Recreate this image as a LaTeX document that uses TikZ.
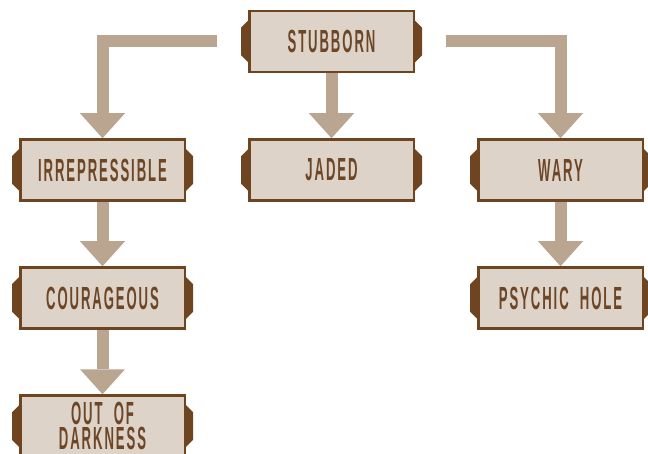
\documentclass[tikz,border=0pt]{standalone}
\usepackage{fontspec}
\setmainfont{Liberation Sans}[FakeStretch=0.41,LetterSpace=6,WordSpace=2]
\usetikzlibrary{arrows.meta,calc}

\definecolor{boxfill}{HTML}{DDD3C8}
\definecolor{boxline}{HTML}{6E4520}
\definecolor{boxtext}{HTML}{6D4626}
\definecolor{arrowc}{HTML}{BAA690}

% side tabs drawn on both short edges of a stage box
\newcommand{\stagetabs}[1]{%
  \fill[boxline] ($(#1.north west)+(1,10)$) -- ++(-8,8) -- ($(#1.south west)+(-7,-18)$) -- ++(8,8) -- cycle;
  \fill[boxline] ($(#1.north east)+(-1,10)$) -- ++(8,8) -- ($(#1.south east)+(7,-18)$) -- ++(-8,8) -- cycle;
}

\begin{document}
\begin{tikzpicture}[x=1pt,y=-1pt,
  stage/.style={draw=boxline, line width=2.5pt, fill=boxfill,
    minimum width=164.5pt, minimum height=61pt, inner sep=0pt,
    text=boxtext, font=\fontsize{32}{25}\selectfont\bfseries, align=center},
  flow/.style={draw=arrowc, line width=12pt,
    -{Triangle[width=45pt,length=25pt,line width=0pt]}}]
\useasboundingbox (0,0) rectangle (648,454);

% stages
\node[stage] (stub)  at (331.5,41.5) {STUBBORN};
\node[stage] (irr)   at (102.5,170)  {IRREPRESSIBLE};
\node[stage] (jaded) at (331.5,170)  {JADED};
\node[stage] (wary)  at (560.5,170)  {WARY};
\node[stage] (cour)  at (102.5,298)  {COURAGEOUS};
\node[stage] (psy)   at (560.5,298)  {PSYCHIC HOLE};
\node[stage] (dark)  at (102.5,426)  {OUT OF\\DARKNESS};

\foreach \n in {stub,irr,jaded,wary,cour,psy,dark}{\stagetabs{\n}}

% connectors
\coordinate (lstart) at ($(stub.west)+(-31,0)$);
\coordinate (rstart) at ($(stub.east)+(31,0)$);
\draw[flow] (lstart) -| (irr.north);
\draw[flow] (rstart) -| (wary.north);
\draw[flow] (stub.south) -- (jaded.north);
\draw[flow] (irr.south) -- (cour.north);
\draw[flow] (cour.south) -- (dark.north);
\draw[flow] (wary.south) -- (psy.north);
\end{tikzpicture}
\end{document}
